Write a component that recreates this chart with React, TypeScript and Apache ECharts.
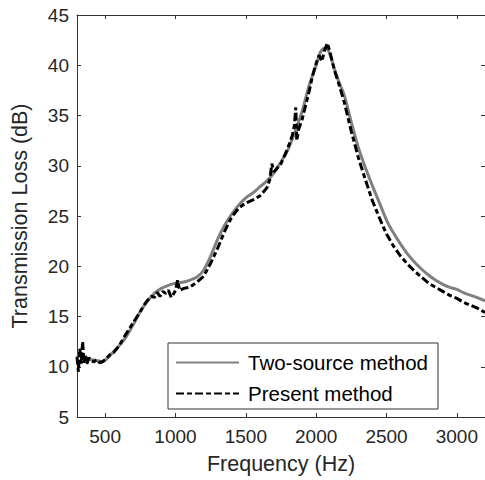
import React, { useEffect, useRef } from "react";
import * as echarts from "echarts";

const xTicks = [500, 1000, 1500, 2000, 2500, 3000];

const freqTwoSource = [300, 325, 350, 400, 450, 480, 520, 560, 600, 650, 700, 750, 800, 850, 900, 950, 1000, 1050, 1100, 1150, 1200, 1250, 1300, 1350, 1400, 1450, 1500, 1550, 1600, 1650, 1700, 1750, 1800, 1850, 1900, 1950, 2000, 2030, 2060, 2080, 2100, 2130, 2160, 2200, 2250, 2300, 2350, 2400, 2450, 2500, 2550, 2600, 2650, 2700, 2750, 2800, 2850, 2900, 2950, 3000, 3050, 3100, 3150, 3200];
const lossTwoSource = [11.2, 11.0, 10.9, 10.7, 10.6, 10.5, 10.9, 11.5, 12.1, 13.0, 14.2, 15.5, 16.5, 17.3, 17.8, 18.1, 18.3, 18.4, 18.6, 18.9, 19.6, 21.0, 22.7, 24.1, 25.2, 26.1, 26.8, 27.3, 27.9, 28.5, 29.3, 30.4, 31.6, 33.4, 35.4, 38.0, 40.0, 41.3, 41.7, 41.6, 41.0, 39.6, 38.4, 37.0, 34.3, 31.8, 29.8, 28.0, 26.3, 24.6, 23.3, 22.2, 21.2, 20.4, 19.7, 19.1, 18.6, 18.2, 17.9, 17.7, 17.35, 17.1, 16.85, 16.55];

const freqPresent = [300, 310, 320, 330, 340, 350, 360, 370, 385, 400, 420, 440, 460, 480, 500, 520, 540, 560, 600, 650, 700, 750, 780, 800, 830, 850, 870, 890, 910, 930, 950, 970, 985, 1000, 1015, 1030, 1060, 1100, 1150, 1200, 1250, 1300, 1350, 1400, 1450, 1500, 1550, 1600, 1650, 1670, 1685, 1700, 1750, 1800, 1830, 1845, 1855, 1862, 1875, 1900, 1925, 1950, 1975, 2000, 2020, 2040, 2060, 2080, 2100, 2130, 2160, 2200, 2250, 2300, 2350, 2400, 2450, 2500, 2550, 2600, 2650, 2700, 2750, 2800, 2850, 2900, 2950, 3000, 3050, 3100, 3150, 3200];
const lossPresent = [11.0, 9.5, 11.8, 10.3, 12.5, 10.4, 11.2, 10.3, 10.9, 10.6, 10.5, 10.7, 10.4, 10.5, 10.7, 11.0, 11.3, 11.4, 12.1, 13.3, 14.4, 15.5, 16.2, 16.6, 17.0, 16.9, 17.4, 17.0, 17.5, 17.3, 17.6, 16.9, 17.2, 17.6, 18.6, 17.6, 17.8, 17.9, 18.4, 19.0, 20.3, 21.8, 23.5, 24.9, 25.8, 26.3, 26.6, 27.0, 27.8, 28.6, 30.2, 29.4, 30.2, 31.8, 33.0, 34.0, 35.8, 32.5, 33.6, 34.6, 36.0, 37.4, 39.0, 40.2, 41.0, 40.4, 41.5, 42.2, 41.2, 39.5, 38.2, 36.3, 33.4, 30.8, 28.6, 26.5, 24.8, 23.2, 22.0, 21.0, 20.2, 19.5, 18.9, 18.3, 17.9, 17.5, 17.1, 16.8, 16.4, 16.1, 15.8, 15.4];

const seriesNames = ["Two-source method", "Present method"];

const FONT = "'Liberation Sans', Arial, Helvetica, sans-serif";
const TEXT = "#262626";
const AXIS = "#333333";

export default function App() {
  const ref = useRef<HTMLDivElement>(null);
  useEffect(() => {
    if (!ref.current) return;
    const chart = echarts.init(ref.current, null, { renderer: "svg" });
    const pair = (xs: number[], ys: number[]) => xs.map((x, i) => [x, ys[i]]);
    const plain = (v: number) => String(v);
    const axisCommon = {
      axisLine: { show: true, lineStyle: { color: AXIS, width: 1 } },
      splitLine: { show: false },
    };
    chart.setOption({
      animation: false,
      backgroundColor: "#ffffff",
      textStyle: { fontFamily: FONT },
      grid: { left: 77, top: 15, right: -3, bottom: 61 },
      legend: {
        orient: "vertical",
        left: 168,
        top: 343,
        padding: [9, 10, 5, 7],
        itemGap: 10,
        itemWidth: 63,
        itemHeight: 20,
        borderColor: "#333333",
        borderWidth: 1,
        backgroundColor: "#ffffff",
        selectedMode: false,
        itemStyle: { color: "rgba(0,0,0,0)", opacity: 0, borderWidth: 0 },
        textStyle: { fontFamily: FONT, fontSize: 20.5, color: "#000000", padding: [0, 0, 0, 4] },
        data: seriesNames,
      },
      xAxis: [
        {
          type: "value",
          min: 300,
          max: 3200,
          position: "bottom",
          ...axisCommon,
          axisTick: { show: true, inside: true, length: 4, lineStyle: { color: AXIS }, customValues: xTicks },
          axisLabel: { show: true, fontFamily: FONT, fontSize: 19, color: TEXT, margin: 10, customValues: xTicks, formatter: plain },
          name: "Frequency (Hz)",
          nameLocation: "middle",
          nameGap: 36,
          nameTextStyle: { fontFamily: FONT, fontSize: 21.5, color: TEXT },
        },
        {
          type: "value",
          min: 300,
          max: 3200,
          position: "top",
          ...axisCommon,
          axisTick: { show: true, inside: true, length: 4, lineStyle: { color: AXIS }, customValues: xTicks },
          axisLabel: { show: false },
        },
      ],
      yAxis: [
        {
          type: "value",
          min: 5,
          max: 45,
          interval: 5,
          position: "left",
          ...axisCommon,
          axisTick: { show: true, inside: true, length: 4, lineStyle: { color: AXIS } },
          axisLabel: { show: true, fontFamily: FONT, fontSize: 19, color: TEXT, margin: 8, formatter: plain },
          name: "Transmission Loss (dB)",
          nameLocation: "middle",
          nameGap: 46,
          nameTextStyle: { fontFamily: FONT, fontSize: 21.5, color: TEXT },
        },
        {
          type: "value",
          min: 5,
          max: 45,
          interval: 5,
          position: "right",
          ...axisCommon,
          axisTick: { show: true, inside: true, length: 4, lineStyle: { color: AXIS } },
          axisLabel: { show: false },
        },
      ],
      series: [
        {
          name: seriesNames[0],
          type: "line",
          xAxisIndex: 0,
          yAxisIndex: 0,
          data: pair(freqTwoSource, lossTwoSource),
          symbol: "none",
          smooth: 0.3,
          color: "#808080",
          lineStyle: { color: "#808080", width: 3 },
        },
        {
          name: seriesNames[1],
          type: "line",
          xAxisIndex: 0,
          yAxisIndex: 0,
          data: pair(freqPresent, lossPresent),
          symbol: "none",
          color: "#000000",
          lineStyle: { color: "#000000", width: 3, type: [8, 3, 5, 3] },
        },
      ],
    });
    return () => chart.dispose();
  }, []);
  return (
    <div
      ref={ref}
      style={{ position: "absolute", left: 0, top: 0, width: 485, height: 480, background: "#fff" }}
    />
  );
}
